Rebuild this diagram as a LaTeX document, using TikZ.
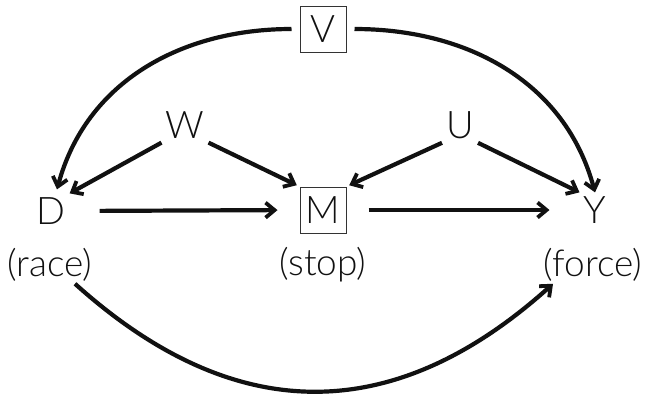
\documentclass[tikz,border=0pt]{standalone}
\usepackage{fontspec}
\setmainfont{Lato}[UprightFont=* Light]
\usepackage{xcolor}
\definecolor{inkblack}{HTML}{111111}
\definecolor{boxgray}{HTML}{333333}
\usepackage{tikz}
\usetikzlibrary{arrows.meta, positioning, calc}
\tikzset{
  var/.style ={rectangle, inner sep=4pt, text=inkblack, font=\fontsize{38}{40}\selectfont},
  varb/.style={var, draw=boxgray, line width=1pt, minimum size=46pt, inner sep=0pt},
  vlbl/.style={rectangle, inner sep=2pt, text=inkblack, font=\fontsize{37}{40}\selectfont},
  darr/.style={-{Straight Barb[length=9pt, width=15pt, line width=3.8pt]}, line width=4.2pt, color=inkblack},
}
\begin{document}
\begin{tikzpicture}[x=1pt, y=-1pt]
  \useasboundingbox (0,0) rectangle (647,397);
  \node[varb] (v) at (323,29) {V};
  \node[var] (w) at (185,125) {W};
  \node[var] (u) at (460,125) {U};
  \node[var] (d) at (51,211) {D};
  \node[varb] (m) at (323,210) {M};
  \node[var] (y) at (595,210) {Y};
  \node[vlbl] (dl) at (50,265) {(race)};
  \node[vlbl] (ml) at (323,265) {(stop)};
  \node[vlbl] (yl) at (593,265) {(force)};
  \draw[darr] ([xshift=-8pt]v.west) to[out=180, in=75] ([xshift=6pt, yshift=4pt]d.north);
  \draw[darr] ([xshift=8pt]v.east) to[out=0, in=105] (y.north);
  \draw[darr] (w.south west) -- (d.north east);
  \draw[darr, shorten >=3pt] (w.south east) -- (m.north west);
  \draw[darr, shorten >=3pt] (u.south west) -- (m.north east);
  \draw[darr] (u.south east) -- (y.north west);
  \draw[darr, shorten <=30pt, shorten >=22pt] (d.east) -- (m.west);
  \draw[darr, shorten <=22pt, shorten >=30pt] (m.east) -- (y.west);
  \draw[darr] ([xshift=25pt]dl.south) to[out=-42, in=-138, looseness=1.15] ([xshift=-40pt]yl.south);
\end{tikzpicture}
\end{document}
